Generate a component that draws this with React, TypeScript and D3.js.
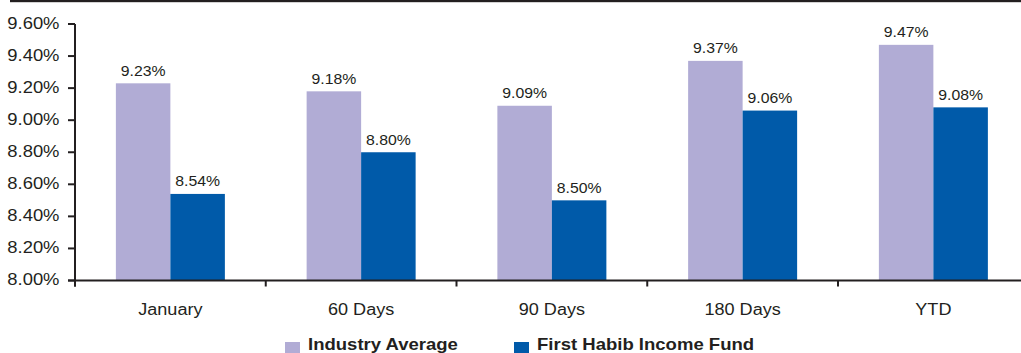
import React from "react";
import * as d3 from "d3";

// Return comparison by period
const categories = ["January", "60 Days", "90 Days", "180 Days", "YTD"];
const seriesNames = ["Industry Average", "First Habib Income Fund"];
const industryAverage = [9.23, 9.18, 9.09, 9.37, 9.47];
const firstHabibIncomeFund = [8.54, 8.8, 8.5, 9.06, 9.08];
const yTicks = [8.0, 8.2, 8.4, 8.6, 8.8, 9.0, 9.2, 9.4, 9.6];
const seriesColors = ["#b1acd5", "#005aa9"];

const WIDTH = 1021;
const HEIGHT = 353;
const TEXT = "#231f20";
const FONT = "'Liberation Sans', Arial, Helvetica, sans-serif";
const STRETCH = 1.13; // wide-set lettering

const plotLeft = 75;
const bandStep = 190.75;
const yTop = 24;
const yBottom = 280.5;

export default function App() {
  const x = d3
    .scaleBand<string>()
    .domain(categories)
    .range([plotLeft, plotLeft + bandStep * categories.length])
    .padding(0);
  const xInner = d3
    .scaleBand<string>()
    .domain(seriesNames)
    .range([0, x.bandwidth()])
    .paddingInner(0)
    .paddingOuter(0.75);
  const y = d3.scaleLinear().domain([8.0, 9.6]).range([yBottom, yTop]);

  const values = [industryAverage, firstHabibIncomeFund];
  const fmt = (v: number) => d3.format(".2f")(v) + "%";

  const stretchedText = (
    key: string,
    tx: number,
    ty: number,
    label: string,
    opts: { size: number; anchor: string; weight?: string; baseline?: string }
  ) => (
    <text
      key={key}
      transform={`translate(${tx},${ty}) scale(${STRETCH},1)`}
      fontSize={opts.size}
      textAnchor={opts.anchor}
      fontWeight={opts.weight || "normal"}
      dominantBaseline={opts.baseline}
      fill={TEXT}
      fontFamily={FONT}
    >
      {label}
    </text>
  );

  const boundaries = d3.range(categories.length + 1).map((i) => plotLeft + i * bandStep);

  return (
    <svg
      width={WIDTH}
      height={HEIGHT}
      style={{ position: "absolute", left: 0, top: 0, background: "#fff" }}
    >
      <rect x={0} y={0} width={WIDTH} height={HEIGHT} fill="#fff" />
      {/* top rule */}
      <rect x={10} y={0} width={WIDTH - 10} height={2.2} fill={TEXT} />

      {/* bars */}
      {values.map((vals, si) =>
        categories.map((c, ci) => {
          const bx = (x(c) as number) + (xInner(seriesNames[si]) as number);
          const by = y(vals[ci]);
          return (
            <rect
              key={`b-${si}-${ci}`}
              x={bx}
              y={by}
              width={xInner.bandwidth()}
              height={yBottom - by}
              fill={seriesColors[si]}
            />
          );
        })
      )}

      {/* value labels */}
      {values.map((vals, si) =>
        categories.map((c, ci) => {
          const cx =
            (x(c) as number) + (xInner(seriesNames[si]) as number) + xInner.bandwidth() / 2;
          return stretchedText(`v-${si}-${ci}`, cx, y(vals[ci]) - 7.5, fmt(vals[ci]), {
            size: 14,
            anchor: "middle",
          });
        })
      )}

      {/* y axis */}
      <line x1={plotLeft} x2={plotLeft} y1={yTop} y2={yBottom + 6} stroke={TEXT} strokeWidth={2} />
      {yTicks.map((t) => (
        <g key={`yt-${t}`}>
          <line x1={plotLeft - 7} x2={plotLeft} y1={y(t)} y2={y(t)} stroke={TEXT} strokeWidth={2} />
          {stretchedText(`yl-${t}`, 59.5, y(t) - 1, fmt(t), {
            size: 16.3,
            anchor: "end",
            baseline: "central",
          })}
        </g>
      ))}

      {/* x axis */}
      <line x1={plotLeft - 7} x2={WIDTH} y1={yBottom} y2={yBottom} stroke={TEXT} strokeWidth={2} />
      {boundaries.map((b, i) => (
        <line key={`xt-${i}`} x1={b} x2={b} y1={yBottom} y2={yBottom + 6} stroke={TEXT} strokeWidth={2} />
      ))}
      {categories.map((c) =>
        stretchedText(`xl-${c}`, (x(c) as number) + x.bandwidth() / 2, 315, c, {
          size: 16,
          anchor: "middle",
        })
      )}

      {/* legend */}
      {seriesNames.map((s, i) => {
        const lx = [285, 514][i];
        return (
          <g key={`lg-${i}`}>
            <rect x={lx} y={342} width={15} height={13} fill={seriesColors[i]} />
            {stretchedText(`lt-${i}`, lx + 23, 350, s, {
              size: 16.4,
              anchor: "start",
              weight: "bold",
            })}
          </g>
        );
      })}
    </svg>
  );
}
